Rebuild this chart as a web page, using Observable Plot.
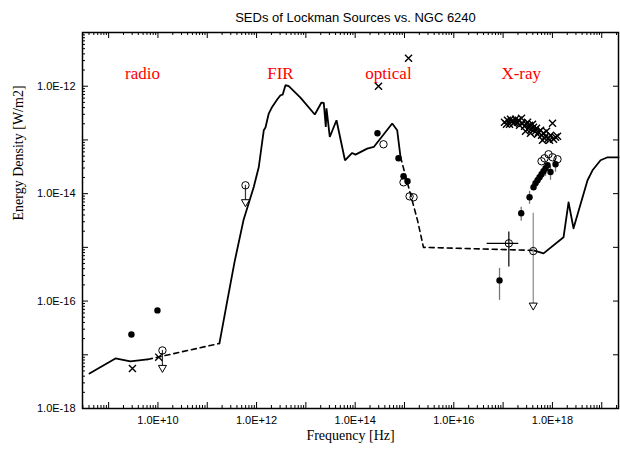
<!DOCTYPE html>
<html><head><meta charset="utf-8">
<script src="https://cdn.jsdelivr.net/npm/d3@7"></script>
<script src="https://cdn.jsdelivr.net/npm/@observablehq/plot@0.6"></script>
<style>html,body{margin:0;padding:0;background:#fff} svg{display:block}</style>
</head><body><div id="chart"></div>
<script>
// ---- values are log10(frequency [Hz]) and log10(energy density [W/m2]) ----
// NGC 6240 SED template
const radioLineNu = [8.611, 9.138, 9.442, 9.787];
const radioLineE  = [-17.348, -17.068, -17.124, -17.087];
const radioGapNu  = [9.787, 11.247];
const radioGapE   = [-17.087, -16.789];
const irOptNu = [11.247, 11.389, 11.552, 11.734, 11.943, 12.045, 12.146, 12.181, 12.247, 12.316, 12.418, 12.485, 12.531, 12.586, 12.653, 12.890, 13.181, 13.316, 13.363, 13.404, 13.418, 13.485, 13.621, 13.793, 13.939, 14.006, 14.243, 14.377, 14.751, 14.852, 14.919];
const irOptE  = [-16.789, -16.081, -15.279, -14.497, -13.876, -13.504, -12.820, -12.770, -12.509, -12.386, -12.248, -12.168, -12.155, -11.981, -12.000, -12.211, -12.527, -12.304, -12.311, -12.758, -12.410, -12.945, -12.634, -13.379, -13.243, -13.273, -13.161, -13.131, -12.695, -12.820, -13.317];
const uvGapNu = [14.919, 15.264, 15.385, 17.617];
const uvGapE  = [-13.317, -14.497, -15.000, -15.056];
const xrayLineNu = [17.617, 17.820, 18.225, 18.327, 18.428, 18.712, 18.813, 18.976, 19.118, 19.341];
const xrayLineE  = [-15.056, -15.112, -14.813, -14.161, -14.646, -13.751, -13.565, -13.379, -13.323, -13.323];

// Lockman source: filled circles
const filledNu = [9.462, 9.990, 14.452, 14.878, 14.980, 15.061, 16.927, 17.367, 17.536, 17.617, 17.657, 17.698, 17.738, 17.779, 17.819, 17.860, 17.901, 17.961, 18.063];
const filledE  = [-16.621, -16.174, -12.876, -13.342, -13.677, -13.770, -15.615, -14.366, -14.068, -13.882, -13.807, -13.751, -13.696, -13.640, -13.584, -13.528, -13.472, -13.597, -13.453];
// filled error bars (gray)
const filledErrNu = [16.927, 17.367, 17.536, 17.860, 17.961, 18.063];
const filledErrLo = [-15.987, -14.515, -14.199, -13.677, -13.751, -13.602];
const filledErrHi = [-15.391, -14.255, -13.956, -13.435, -13.491, -13.342];

// Lockman source: open circles
const openNu = [10.091, 11.775, 14.574, 14.980, 15.103, 15.184, 17.116, 17.611, 17.779, 17.840, 17.921, 18.002, 18.103];
const openE  = [-16.919, -13.845, -13.081, -13.789, -14.050, -14.068, -14.925, -15.069, -13.397, -13.342, -13.267, -13.323, -13.360];
// upper limits (arrow to a down triangle)
const limitNu   = [10.091, 11.775, 17.611];
const limitFrom = [-16.919, -13.845, -14.366];
const limitTo   = [-17.241, -14.156, -16.081];
// error cross on the open X-ray point
const crossNu = 17.116, crossE = -14.925;
const crossNuLo = 16.676, crossNuHi = 17.317;
const crossELo = -15.367, crossEHi = -14.715;

// Lockman source: crosses
const timesNu = [9.483, 10.016, 14.473, 15.082,
  17.028, 17.089, 17.130, 17.170, 17.211, 17.252, 17.292, 17.333, 17.373, 17.394, 17.434, 17.475, 17.515, 17.536, 17.576, 17.617, 17.657, 17.677, 17.718, 17.759, 17.779, 17.819, 17.860, 17.880, 17.921, 17.961, 18.002, 18.022, 18.063, 18.103, 17.454, 17.799, 17.556,
  17.069, 17.150, 17.231, 17.312, 17.495, 17.596, 17.698, 17.840, 17.941];
const timesE  = [-17.254, -17.044, -12.000, -11.478,
  -12.671, -12.634, -12.708, -12.652, -12.689, -12.615, -12.671, -12.727, -12.596, -12.689, -12.745, -12.708, -12.783, -12.727, -12.801, -12.764, -12.838, -12.783, -12.857, -12.820, -12.913, -12.876, -12.932, -12.838, -12.969, -12.913, -12.689, -12.988, -12.950, -12.932, -12.838, -13.006, -12.876,
  -12.708, -12.615, -12.671, -12.634, -12.671, -12.708, -12.894, -12.969, -13.006];

// band labels
const bandLabels = ["radio", "FIR", "optical", "X-ray"];
const bandNu = [9.686, 12.485, 14.675, 17.367];
const bandE = -11.758;

// axis tick labels
const xTickExp = [10, 12, 14, 16, 18];
const xTickLabels = ["1.0E+10", "1.0E+12", "1.0E+14", "1.0E+16", "1.0E+18"];
const yTickExp = [-12, -14, -16, -18];
const yTickLabels = ["1.0E-12", "1.0E-14", "1.0E-16", "1.0E-18"];

// ---- build ----
const pts = (nu, e) => nu.map((v, i) => ({x: 10 ** v, y: 10 ** e[i]}));
const W = 620, H = 449, mL = 82, mR = 2, mT = 32, mB = 41;
const pw = W - mL - mR, ph = H - mT - mB;
const xDomain = [10 ** 8.47, 10 ** 19.34];
const yDomain = [1e-18, 1e-11];
const inX = v => v >= xDomain[0] && v <= xDomain[1];
const inY = v => v >= yDomain[0] && v <= yDomain[1];
const xMajor = d3.range(8, 20).map(e => 10 ** e).filter(inX);
const xMinor = d3.range(8, 20).flatMap(e => d3.range(2, 10).map(k => k * 10 ** e)).filter(inX);
const yMajor = d3.range(-18, -10).map(e => 10 ** e).filter(inY);
const yMinor = d3.range(-18, -11).flatMap(e => d3.range(2, 10).map(k => k * 10 ** e)).filter(inY);

const tk = {stroke: "black", strokeWidth: 1};
const serif = "Liberation Serif, Times New Roman, serif";
const sans = "Liberation Sans, Arial, Helvetica, sans-serif";

const chart = Plot.plot({
  width: W, height: H,
  marginLeft: mL, marginRight: mR, marginTop: mT, marginBottom: mB,
  style: {background: "white", overflow: "visible"},
  x: {type: "log", domain: xDomain, axis: null},
  y: {type: "log", domain: yDomain, axis: null},
  marks: [
    // ticks (inside the frame)
    Plot.tickX(xMajor, {x: d => d, insetTop: ph - 6, ...tk}),
    Plot.tickX(xMinor, {x: d => d, insetTop: ph - 3, ...tk}),
    Plot.tickX(xMajor, {x: d => d, insetBottom: ph - 6, ...tk}),
    Plot.tickX(xMinor, {x: d => d, insetBottom: ph - 3, ...tk}),
    Plot.tickY(yMajor, {y: d => d, insetRight: pw - 6, ...tk}),
    Plot.tickY(yMinor, {y: d => d, insetRight: pw - 3, ...tk}),
    Plot.tickY(yMajor, {y: d => d, insetLeft: pw - 5, ...tk}),
    Plot.frame({stroke: "black", strokeWidth: 1.5}),
    // tick labels
    Plot.text(xTickExp, {x: d => 10 ** d, text: (d, i) => xTickLabels[i], frameAnchor: "bottom", dy: 15, fontFamily: sans, fontSize: 11, fill: "black"}),
    Plot.text(yTickExp, {y: d => 10 ** d, text: (d, i) => yTickLabels[i], frameAnchor: "left", dx: -7, textAnchor: "end", fontFamily: sans, fontSize: 11, fill: "black"}),
    // axis titles & title
    Plot.text(["Frequency [Hz]"], {frameAnchor: "bottom", dy: 31, fontFamily: serif, fontSize: 14, fill: "black"}),
    Plot.text(["Energy Density [W/m2]"], {frameAnchor: "left", dx: -64, rotate: -90, fontFamily: serif, fontSize: 14, fill: "black"}),
    Plot.text(["SEDs of Lockman Sources vs. NGC 6240"], {frameAnchor: "top", dy: -20, dx: 5, fontFamily: sans, fontSize: 13, fill: "black"}),
    // band labels
    Plot.text(bandLabels, {x: (d, i) => 10 ** bandNu[i], y: () => 10 ** bandE, text: d => d, fill: "red", fontFamily: serif, fontSize: 17}),
    // NGC 6240 SED
    Plot.line(pts(radioLineNu, radioLineE), {x: "x", y: "y", stroke: "black", strokeWidth: 1.8}),
    Plot.line(pts(radioGapNu, radioGapE), {x: "x", y: "y", stroke: "black", strokeWidth: 1.6, strokeDasharray: "5,4"}),
    Plot.line(pts(irOptNu, irOptE), {x: "x", y: "y", stroke: "black", strokeWidth: 1.8, strokeLinejoin: "miter"}),
    Plot.line(pts(uvGapNu, uvGapE), {x: "x", y: "y", stroke: "black", strokeWidth: 1.6, strokeDasharray: "5,4"}),
    Plot.line(pts(xrayLineNu, xrayLineE), {x: "x", y: "y", stroke: "black", strokeWidth: 1.8}),
    // error bars
    Plot.ruleX(filledErrNu, {x: d => 10 ** d, y1: (d, i) => 10 ** filledErrLo[i], y2: (d, i) => 10 ** filledErrHi[i], stroke: "#777", strokeWidth: 1.3}),
    Plot.ruleX(limitNu, {x: d => 10 ** d, y1: (d, i) => 10 ** limitFrom[i], y2: (d, i) => 10 ** limitTo[i], stroke: (d, i) => i === 2 ? "#888" : "#333", strokeWidth: 1.2}),
    Plot.ruleX([crossNu], {x: d => 10 ** d, y1: 10 ** crossELo, y2: 10 ** crossEHi, stroke: "black", strokeWidth: 1.2}),
    Plot.ruleY([crossE], {y: d => 10 ** d, x1: 10 ** crossNuLo, x2: 10 ** crossNuHi, stroke: "black", strokeWidth: 1.2}),
    Plot.dot(limitNu, {x: d => 10 ** d, y: (d, i) => 10 ** limitTo[i], symbol: "triangle", rotate: 180, r: 3, fill: "white", stroke: "black", strokeWidth: 1}),
    // markers
    Plot.dot(pts(timesNu, timesE), {x: "x", y: "y", symbol: "times", r: 3.3, stroke: "black", strokeWidth: 1.4}),
    Plot.dot(pts(filledNu, filledE), {x: "x", y: "y", r: 3.2, fill: "black", stroke: "none"}),
    Plot.dot(pts(openNu, openE), {x: "x", y: "y", r: 3.7, fill: "none", stroke: "black", strokeWidth: 1})
  ]
});
document.getElementById("chart").appendChild(chart);
</script></body></html>
